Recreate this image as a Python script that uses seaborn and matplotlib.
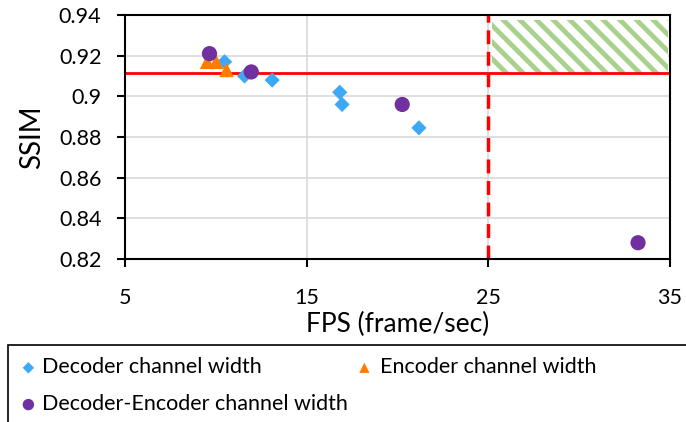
import matplotlib
matplotlib.use("Agg")
import matplotlib.pyplot as plt
import seaborn as sns
import pandas as pd
from matplotlib.patches import Rectangle

# ---- data ----
dec_fps = [10.48, 11.58, 13.1, 16.82, 16.95, 21.18]
dec_ssim = [0.917, 0.910, 0.908, 0.902, 0.896, 0.8845]
enc_fps = [9.52, 10.02, 10.59]
enc_ssim = [0.917, 0.917, 0.913]
de_fps = [9.65, 11.95, 20.26, 33.24]
de_ssim = [0.921, 0.912, 0.896, 0.828]
series_names = ["Decoder channel width", "Encoder channel width",
                "Decoder-Encoder channel width"]
x_ticks = [5, 15, 25, 35]
y_ticks = [0.82, 0.84, 0.86, 0.88, 0.90, 0.92, 0.94]
y_tick_labels = ["0.82", "0.84", "0.86", "0.88", "0.9", "0.92", "0.94"]
ssim_threshold = 0.9115
fps_threshold = 25
target_box = (25.2, 34.9, 0.9115, 0.9375)

sns.set_theme(style="white")
plt.rcParams['font.family'] = ['Lato', 'DejaVu Sans']
plt.rcParams['hatch.linewidth'] = 3.5

fig = plt.figure(figsize=(6.86, 4.22), dpi=100)
ax = fig.add_axes([125/686, 1-259/422, 545/686, 244/422])

# target region (hatched)
ax.fill_between([target_box[0], target_box[1]], target_box[2], target_box[3],
                facecolor="white", edgecolor="#A9D18E", linewidth=0,
                hatch="\\\\", zorder=1)
# thresholds
ax.plot([5, 34.9], [ssim_threshold, ssim_threshold], color="#FF0000", lw=2, zorder=2)
ax.axvline(fps_threshold, color="#FF0000", lw=2.5, dashes=(4, 2.2), zorder=2)

df_dec = pd.DataFrame({"fps": dec_fps, "ssim": dec_ssim})
df_enc = pd.DataFrame({"fps": enc_fps, "ssim": enc_ssim})
df_de = pd.DataFrame({"fps": de_fps, "ssim": de_ssim})

sns.scatterplot(data=df_dec, x="fps", y="ssim", ax=ax, marker="D", s=60,
                color="#3DA8F5", edgecolor="none", label=series_names[0], zorder=3)
sns.scatterplot(data=df_enc, x="fps", y="ssim", ax=ax, marker="^", s=110,
                color="#FF7C00", edgecolor="none", label=series_names[1], zorder=3)
sns.scatterplot(data=df_de, x="fps", y="ssim", ax=ax, marker="o", s=120,
                color="#7030A0", edgecolor="none", label=series_names[2], zorder=4)

ax.set_xlim(5, 35)
ax.set_ylim(0.82, 0.94)
ax.set_xticks(x_ticks)
ax.set_yticks(y_ticks)
ax.set_yticklabels(y_tick_labels)
ax.grid(True, color="#D9D9D9", lw=1.2)
ax.set_axisbelow(True)
for sp in ax.spines.values():
    sp.set_color("black")
    sp.set_linewidth(1.5)
ax.tick_params(axis="both", direction="out", length=6, width=1.5, color="black",
               labelsize=15.5, labelcolor="black", bottom=True, left=True)
ax.tick_params(axis="x", pad=15)
ax.tick_params(axis="y", pad=11)
ax.set_xlabel("FPS (frame/sec)", fontsize=19, color="black", labelpad=3)
ax.set_ylabel("SSIM", fontsize=20, color="black", labelpad=10)

handles, labels = ax.get_legend_handles_labels()
ax.legend_.remove()
hmap = dict(zip(labels, handles))

# legend frame
fig.add_artist(Rectangle((8/686, -0.05), 1.0, 1-345/422 + 0.05,
                         transform=fig.transFigure, facecolor="white",
                         edgecolor="black", lw=1.2, zorder=0))
leg1 = fig.legend([hmap[series_names[0]], hmap[series_names[2]]],
                  [series_names[0], series_names[2]],
                  loc="upper left", bbox_to_anchor=(16/686, 1-351/422),
                  frameon=False, fontsize=15.5, markerscale=0.75,
                  handlelength=0.55, handletextpad=0.35, labelspacing=0.78,
                  borderaxespad=0, borderpad=0.3)
leg2 = fig.legend([hmap[series_names[1]]], [series_names[1]],
                  loc="upper left", bbox_to_anchor=(352/686, 1-351/422),
                  frameon=False, fontsize=15.5, markerscale=0.7,
                  handlelength=0.55, handletextpad=0.45,
                  borderaxespad=0, borderpad=0.3)
for lg in (leg1, leg2):
    for t in lg.get_texts():
        t.set_color("black")

fig.savefig("out.png", dpi=100)
